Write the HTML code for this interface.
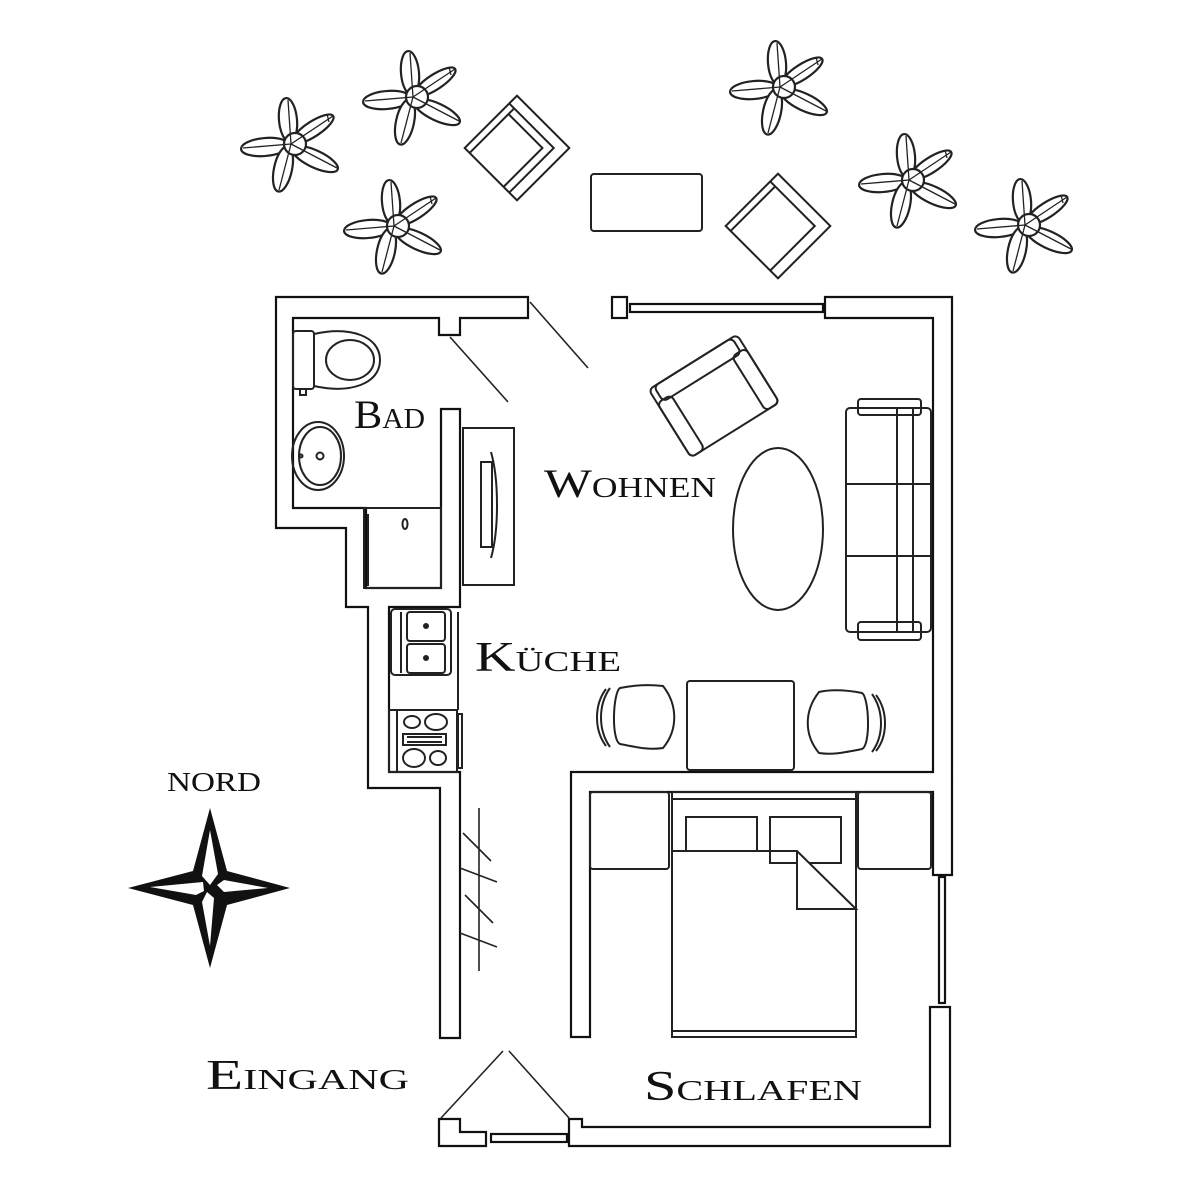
<!DOCTYPE html>
<html><head><meta charset="utf-8"><style>
html,body{margin:0;padding:0;background:#fff;}
svg{display:block;}
.l{font-family:"Liberation Serif",serif;font-variant:small-caps;fill:#111;}
</style></head><body>
<svg width="1200" height="1200" viewBox="0 0 1200 1200" xmlns="http://www.w3.org/2000/svg">
<defs>
<g id="plant" fill="#fff" stroke="#222" stroke-width="2.2">
<ellipse cx="-3" cy="-24" rx="9" ry="22" transform="rotate(-5 -3 -24)"/>
<ellipse cx="-26" cy="3" rx="24" ry="9" transform="rotate(-5 -26 3)"/>
<ellipse cx="-8" cy="25" rx="9" ry="23" transform="rotate(12 -8 25)"/>
<ellipse cx="24" cy="15" rx="25" ry="8.5" transform="rotate(25 24 15)"/>
<ellipse cx="22" cy="-15" rx="24" ry="7.5" transform="rotate(-33 22 -15)"/>
<circle cx="4" cy="0" r="11" fill="#fff"/>
<path d="M0,0 L-3,-44 M0,0 L-48,4 M0,0 L-12,46 M0,0 L46,24 M0,0 L42,-28 M36,-30 l2,8" fill="none" stroke-width="1.3"/>
</g>
</defs>

<use href="#plant" x="291" y="144"/>
<use href="#plant" x="413" y="97"/>
<use href="#plant" x="394" y="226"/>
<use href="#plant" x="780" y="87"/>
<use href="#plant" x="909" y="180"/>
<use href="#plant" x="1025" y="225"/>

<g fill="none" stroke="#222" stroke-width="2">
<g transform="translate(517,148) rotate(45)">
<rect x="-37" y="-37" width="74" height="74"/>
<path d="M-37,-26 L26,-26 L26,37"/>
<path d="M-30,-18 L18,-18 L18,37 M-30,-26 L-30,37"/>
</g>
<g transform="translate(778,226) rotate(45)">
<rect x="-37" y="-37" width="74" height="74"/>
<path d="M-37,-26 L26,-26 L26,37"/>
<path d="M-30,-26 L-30,37"/>
</g>
<rect x="591" y="174" width="111" height="57" rx="3"/>

<g fill="#fff" stroke="#111" stroke-width="2.2">
<path d="M528,297 L276,297 L276,528 L346,528 L346,607 L368,607 L368,788 L440,788 L440,1038 L460,1038 L460,772 L389,772 L389,607 L460,607 L460,409 L441,409 L441,588 L366,588 L366,508 L293,508 L293,318 L439,318 L439,335 L460,335 L460,318 L528,318 Z"/>
<path d="M825,297 L952,297 L952,875 L933,875 L933,792 L590,792 L590,1037 L571,1037 L571,772 L933,772 L933,318 L825,318 Z"/>
<rect x="612" y="297" width="15" height="21"/>
<rect x="630" y="304" width="193" height="8"/>
<rect x="939" y="877" width="6" height="126"/>
<path d="M569,1119 L582,1119 L582,1127 L930,1127 L930,1007 L950,1007 L950,1146 L569,1146 Z"/>
<path d="M439,1119 L460,1119 L460,1132 L486,1132 L486,1146 L439,1146 Z"/>
<rect x="491" y="1134" width="76" height="8"/>
</g>
<path d="M530,302 L588,368 M450,337 L508,402 M441,1118 L503,1051 M509,1051 L569,1118" stroke-width="1.6"/>

<rect x="293" y="331" width="21" height="58" rx="3"/>
<path d="M314,334 C350,326 380,336 380,360 C380,384 350,394 314,386"/>
<ellipse cx="350" cy="360" rx="24" ry="20"/>
<rect x="300" y="389" width="6" height="6"/>
<ellipse cx="318" cy="456" rx="26" ry="34"/>
<ellipse cx="320" cy="456" rx="21" ry="29"/>
<circle cx="320" cy="456" r="3.5"/>
<circle cx="301" cy="456" r="1.5"/>
<rect x="364" y="508" width="77" height="80"/>
<path d="M368,514 V586"/>
<ellipse cx="405" cy="524" rx="2.5" ry="5"/>

<rect x="463" y="428" width="51" height="157"/>
<rect x="481" y="462" width="11" height="85"/>
<path d="M491,452 C499,480 499,530 491,558"/>

<rect x="391" y="609" width="60" height="66" rx="4"/>
<rect x="407" y="612" width="38" height="29" rx="3"/>
<rect x="407" y="644" width="38" height="29" rx="3"/>
<circle cx="426" cy="626" r="2" fill="#222"/><circle cx="426" cy="658" r="2" fill="#222"/>
<path d="M401,612 V673 M458,612 V710"/>
<rect x="389" y="710" width="68" height="62"/>
<path d="M397,710 V772"/>
<ellipse cx="412" cy="722" rx="8" ry="6"/><ellipse cx="436" cy="722" rx="11" ry="8"/>
<rect x="403" y="734" width="43" height="11"/><path d="M407,737 H442 M407,742 H442"/>
<ellipse cx="414" cy="758" rx="11" ry="9"/><ellipse cx="438" cy="758" rx="8" ry="7"/>
<rect x="458" y="714" width="4" height="54"/>

<g transform="translate(714,396) rotate(-32)">
<rect x="-52" y="-40" width="104" height="80" rx="5"/>
<rect x="-46" y="-40" width="92" height="18" rx="5"/>
<rect x="-52" y="-24" width="16" height="64" rx="5"/>
<rect x="36" y="-24" width="16" height="64" rx="5"/>
</g>

<ellipse cx="778" cy="529" rx="45" ry="81"/>

<rect x="846" y="408" width="85" height="224" rx="4"/>
<rect x="858" y="399" width="63" height="16" rx="3"/>
<rect x="858" y="622" width="63" height="18" rx="3"/>
<path d="M897,408 V632 M913,408 V632 M846,484 H931 M846,556 H931"/>

<rect x="687" y="681" width="107" height="89" rx="3"/>
<path d="M620,688 C640,684 655,685 663,686 C678,705 678,730 663,748 C650,750 640,748 620,744 C611,740 613,692 620,688 Z"/>
<path d="M610,688 C598,705 598,730 610,747 M606,689 C594,705 594,730 606,746"/>
<path d="M862,693 C842,689 827,690 819,692 C804,711 804,735 819,753 C832,755 842,753 862,749 C871,745 869,697 862,693 Z"/>
<path d="M872,694 C884,711 884,736 872,752 M876,695 C888,711 888,736 876,751"/>

<rect x="590" y="792" width="79" height="77" rx="3"/>
<rect x="858" y="792" width="73" height="77" rx="3"/>
<rect x="672" y="792" width="184" height="245"/>
<path d="M672,799 H856 M672,1031 H856"/>
<rect x="686" y="817" width="71" height="34"/>
<rect x="770" y="817" width="71" height="46"/>
<path d="M672,851 H797 L856,909 H797 V851" fill="#fff"/>

<path d="M479,808 V971 M463,833 L491,861 M460,868 L497,882 M465,895 L493,923 M460,933 L497,947" stroke-width="1.6"/>
</g>

<g transform="translate(210,888)">
<polygon points="0,-80 17,-17 80,0 17,17 0,80 -17,17 -82,0 -17,-17" fill="#111"/>
<polygon points="0,-58 8,-14 0,-3 -8,-12" fill="#fff"/>
<polygon points="7,-3 14,-8 58,0 14,4" fill="#fff"/>
<polygon points="-3,4 4,10 0,58 -8,14" fill="#fff"/>
<polygon points="-7,-6 -60,-1 -14,7 -6,3" fill="#fff"/>
</g>

<text class="l" x="167" y="791" font-size="27" textLength="94" lengthAdjust="spacingAndGlyphs">NORD</text>
<text class="l" x="354" y="428" font-size="40" textLength="71" lengthAdjust="spacingAndGlyphs">Bad</text>
<text class="l" x="544" y="497" font-size="40" textLength="172" lengthAdjust="spacingAndGlyphs">Wohnen</text>
<text class="l" x="475" y="671" font-size="42" textLength="146" lengthAdjust="spacingAndGlyphs">Küche</text>
<text class="l" x="206" y="1089" font-size="42" textLength="203" lengthAdjust="spacingAndGlyphs">Eingang</text>
<text class="l" x="644" y="1100" font-size="42" textLength="218" lengthAdjust="spacingAndGlyphs">Schlafen</text>
</svg>
</body></html>
